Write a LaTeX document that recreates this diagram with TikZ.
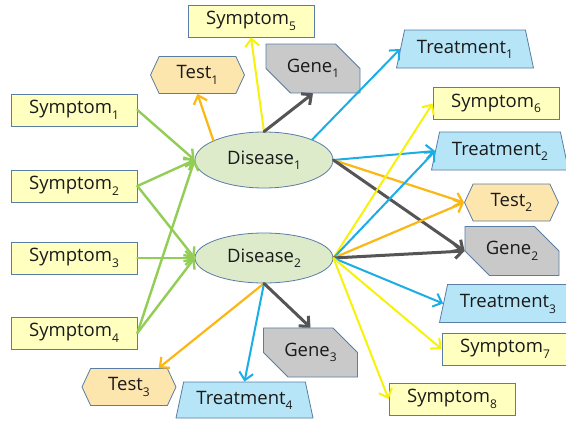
\documentclass[tikz,border=0pt]{standalone}
\usepackage{fontspec}
\setmainfont{Open Sans}
\usetikzlibrary{shapes.geometric,shapes.symbols,shapes.misc,arrows.meta}
\definecolor{bordc}{HTML}{5A7DA3}
\definecolor{sympfill}{HTML}{FFFFBF}
\definecolor{testfill}{HTML}{FDE5AE}
\definecolor{genefill}{HTML}{C9C9C9}
\definecolor{treatfill}{HTML}{B5E5F7}
\definecolor{disfill}{HTML}{DDEBCB}
\definecolor{txtc}{HTML}{1A1A1A}
\definecolor{greenc}{HTML}{92CD55}
\definecolor{yellowc}{HTML}{F7F20A}
\definecolor{orangec}{HTML}{FBB714}
\definecolor{bluec}{HTML}{1BADE6}
\definecolor{grayc}{HTML}{555555}
\newcommand{\sbx}[1]{\raisebox{-0.3em}{\fontsize{12}{12}\selectfont #1}}
\begin{document}
\begin{tikzpicture}[x=1pt,y=-1pt,
  base/.style={draw=bordc, line width=0.8pt, inner sep=0pt, text=txtc,
    font=\fontsize{18.5}{18.5}\selectfont},
  symp/.style={base, rectangle, fill=sympfill, minimum width=126pt, minimum height=32pt},
  testbox/.style={base, signal, signal to=west and east, signal pointer angle=130,
    fill=testfill, minimum width=94pt, minimum height=37pt},
  genebox/.style={base, chamfered rectangle, chamfered rectangle corners={north east,south west},
    chamfered rectangle xsep=12pt, chamfered rectangle ysep=15pt,
    fill=genefill, minimum width=94pt, minimum height=37pt},
  treatbox/.style={base, trapezium, trapezium left angle=78, trapezium right angle=78,
    trapezium stretches body, text height=13pt, text depth=5pt, inner xsep=0pt,
    inner ysep=10pt, fill=treatfill, minimum width=137pt},
  disbox/.style={base, ellipse, fill=disfill, minimum width=138pt},
  tip/.style={-{Straight Barb[length=7.5pt,width=14pt]}, line join=round, line cap=round},
  garrow/.style={tip, draw=greenc, line width=2.4pt},
  yarrow/.style={tip, draw=yellowc, line width=2pt},
  oarrow/.style={tip, draw=orangec, line width=2.2pt},
  barrow/.style={tip, draw=bluec, line width=2pt},
  karrow/.style={tip, draw=grayc, line width=3pt}
]
\useasboundingbox[fill=white] (0,0) rectangle (566,421);

% nodes
\node[symp] (S1) at (74,110) {Symptom\sbx{1}};
\node[symp] (S2) at (74,186) {Symptom\sbx{2}};
\node[symp] (S3) at (74,258) {Symptom\sbx{3}};
\node[symp] (S4) at (74,333) {Symptom\sbx{4}};
\node[symp] (S5) at (251,21) {Symptom\sbx{5}};
\node[symp] (S6) at (496,103.5) {Symptom\sbx{6}};
\node[symp] (S7) at (505,349) {Symptom\sbx{7}};
\node[symp] (S8) at (452,399) {Symptom\sbx{8}};

\node[testbox] (T1) at (197.5,75) {Test\sbx{1}};
\node[testbox] (T2) at (511.5,202.5) {Test\sbx{2}};
\node[testbox] (T3) at (129,387) {Test\sbx{3}};

\node[genebox] (G1) at (313,68.5) {Gene\sbx{1}};
\node[genebox] (G2) at (512,251) {Gene\sbx{2}};
\node[genebox] (G3) at (310.5,352.5) {Gene\sbx{3}};

\node[treatbox] (R1) at (465,49) {Treatment\sbx{1}};
\node[treatbox] (R2) at (500,151) {Treatment\sbx{2}};
\node[treatbox] (R3) at (508,303.5) {Treatment\sbx{3}};
\node[treatbox, inner ysep=9pt] (R4) at (244.5,400) {Treatment\sbx{4}};

\node[disbox, minimum height=56pt] (D1) at (264,160) {Disease\sbx{1}};
\node[disbox, minimum height=50pt] (D2) at (264,258) {Disease\sbx{2}};

% green inputs
\draw[garrow] (S1.east) -- (D1.west);
\draw[garrow] (S2.east) -- (D1.west);
\draw[garrow] (S2.east) -- (D2.west);
\draw[garrow] (S3.east) -- (D2.west);
\draw[garrow] (S4.east) -- (D2.west);
\draw[garrow] (S4.east) -- (D1.west);

% Disease1 outputs
\draw[oarrow] (D1.159) -- (T1.south);
\draw[yarrow] (D1.north) -- (S5.south);
\draw[karrow] (D1.north) -- (G1.south);
\draw[barrow] (D1.23) -- (R1.west);
\draw[barrow] (D1.east) -- (R2.west);
\draw[oarrow] (D1.east) -- (T2.west);
\draw[karrow] (D1.east) -- (G2.west);

% Disease2 outputs
\draw[yarrow] (D2.east) -- (S6.west);
\draw[barrow] (D2.east) -- (R2.west);
\draw[oarrow] (D2.east) -- (T2.west);
\draw[karrow] (D2.east) -- (G2.west);
\draw[barrow] (D2.east) -- (R3.west);
\draw[yarrow] (D2.east) -- (S7.west);
\draw[yarrow] (D2.east) -- (S8.west);
\draw[oarrow] (D2.south) -- ([xshift=-9pt]T3.north east);
\draw[barrow] (D2.south) -- (R4.north);
\draw[karrow] (D2.south) -- (G3.north);
\end{tikzpicture}
\end{document}
